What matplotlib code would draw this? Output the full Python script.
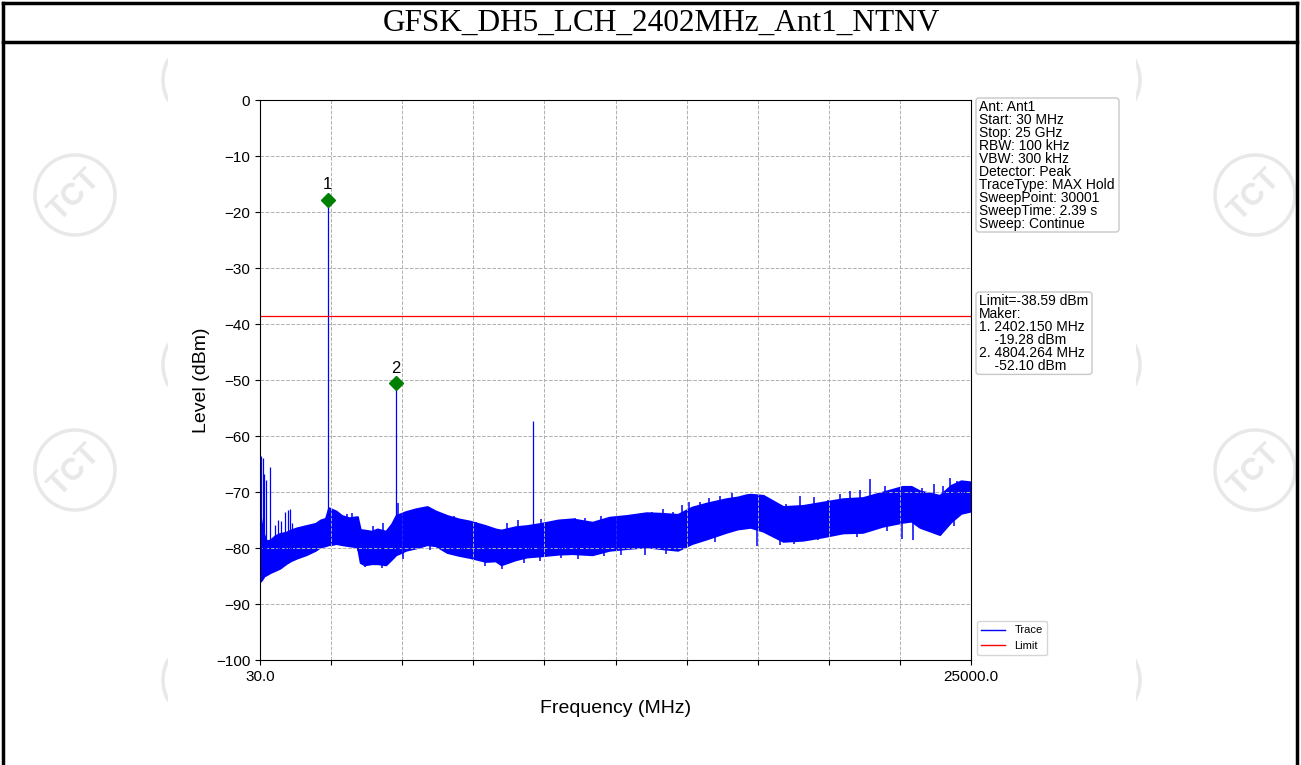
import numpy as np
import matplotlib
matplotlib.use('Agg')
import matplotlib.pyplot as plt
from matplotlib.patches import Circle, Rectangle, Arc, FancyBboxPatch
from matplotlib.lines import Line2D

matplotlib.rcParams['font.family'] = 'sans-serif'
matplotlib.rcParams['font.sans-serif'] = ['Liberation Sans', 'DejaVu Sans']

title = 'GFSK_DH5_LCH_2402MHz_Ant1_NTNV'
f_start, f_stop = 30.0, 25000.0
limit = -38.59

# noise floor envelope (MHz, dBm low, dBm high)
env_f = [30, 100, 170, 250, 380, 560, 730, 940, 1100, 1320, 1650, 1980, 2150, 2330,
         2440, 2520, 2700, 2900, 3150, 3450, 3550, 3700, 3950, 4150, 4450, 4650, 4804,
         4900, 5150, 5500, 5900, 6200, 6600, 7000, 7400, 7950, 8300, 8500, 9000, 9400,
         9900, 10500, 11000, 11700, 12300, 12900, 13600, 14100, 14700, 15200, 15700,
         16400, 16800, 17100, 17250, 17700, 18400, 19100, 19800, 20500, 21200, 21900,
         22600, 22900, 23200, 23900, 24300, 24650, 25000]
env_lo = [-86.0, -85.6, -85.0, -84.8, -84.4, -84.0, -83.6, -82.8, -82.3, -81.8, -81.2,
          -80.4, -79.8, -79.6, -79.4, -79.4, -79.2, -79.4, -79.6, -79.8, -82.6, -83.0,
          -82.8, -82.8, -83.0, -82.0, -81.2, -81.0, -80.4, -80.0, -79.4, -79.6, -80.8,
          -81.3, -81.7, -82.4, -82.3, -83.0, -82.1, -81.6, -81.4, -81.1, -81.0, -81.2,
          -80.4, -80.1, -79.8, -80.1, -80.4, -79.2, -78.4, -77.2, -76.6, -76.4, -76.3,
          -77.0, -78.8, -78.6, -78.0, -77.3, -77.2, -76.1, -75.4, -75.2, -76.3, -77.6,
          -75.3, -73.8, -73.4]
env_hi = [-74.0, -76.2, -77.7, -78.7, -78.6, -77.8, -77.4, -77.2, -76.8, -76.4, -76.0,
          -75.6, -75.0, -74.7, -72.8, -73.0, -73.4, -74.2, -74.6, -74.4, -76.7, -76.8,
          -77.0, -76.6, -77.0, -75.7, -74.2, -74.0, -73.5, -73.0, -72.6, -73.4, -74.2,
          -74.8, -75.2, -76.0, -76.6, -76.8, -76.2, -76.0, -75.6, -75.0, -74.8, -75.4,
          -74.5, -74.2, -73.7, -73.8, -74.0, -72.7, -72.0, -71.2, -70.9, -70.5, -70.4,
          -70.6, -72.6, -72.4, -71.8, -71.2, -71.0, -70.0, -69.0, -69.0, -69.8, -70.6,
          -68.8, -68.0, -68.2]

# noise peaks poking out of the floor (MHz, dBm)
peak_f = [2724, 2910, 3100, 3250, 3475, 4000, 4350, 4880, 5300, 5600, 5885, 6236, 6527,
          6850, 7160, 7600, 8037, 8694, 9100, 9510, 9900, 10215, 10800, 11100, 11440, 12000,
          12555, 13200, 13786, 14200, 14545, 14840, 15100, 15480, 15800, 16185, 16600,
          16947, 17600, 18100, 18500, 19000, 19500, 19990, 20400, 20750, 21100, 21450,
          21980, 22300, 22800, 23270, 23700, 24000, 24260, 24500, 24730]
peak_top = [-73.5, -74.4, -74.0, -73.8, -74.4, -76.0, -75.6, -72.0, -74.4, -73.0, -73.2,
            -73.5, -74.1, -74.2, -75.0, -75.3, -76.5, -75.6, -75.0, -75.9, -74.8, -75.3,
            -75.6, -74.6, -74.7, -74.2, -74.4, -74.7, -73.5, -73.0, -73.5, -72.3, -71.8,
            -71.7, -71.0, -70.8, -70.2, -71.1, -72.6, -71.8, -72.2, -70.8, -70.9, -71.4,
            -70.3, -69.9, -69.6, -67.7, -69.0, -69.4, -70.5, -69.3, -68.5, -68.9, -67.5,
            -68.0, -68.1]
# noise dips below the floor (MHz, dBm)
dip_f = [3717, 4300, 5063, 6000, 7932, 8517, 9300, 9864, 10600, 11210, 12100, 12700,
         13550, 14300, 16000, 17470, 18290, 18800, 19640, 21000, 22040, 22570, 22975,
         23680, 24400]
dip_bot = [-83.4, -83.6, -82.0, -80.3, -83.2, -83.8, -82.6, -82.4, -81.8, -82.0, -81.4,
           -81.2, -81.2, -81.0, -79.0, -79.6, -79.4, -79.2, -78.6, -78.0, -77.0, -78.4,
           -78.6, -76.6, -76.0]

# narrow spurs and harmonics (MHz, top dBm)
spur_f = [65, 135, 170, 240, 380, 560, 660, 760, 900, 1000, 1080, 1150, 2402, 4804, 9608]
spur_top = [-63.5, -64.0, -66.7, -67.8, -65.5, -75.9, -75.0, -75.2, -73.5, -73.2, -73.0,
            -75.5, -17.8, -50.5, -57.3]

marker_no = ['1', '2']
marker_f = [2402.150, 4804.264]
marker_lvl = [-17.8, -50.5]
marker_txt = ['2402.150 MHz', '4804.264 MHz']
marker_dbm = ['-19.28 dBm', '-52.10 dBm']

info_lines = ['Ant: Ant1', 'Start: 30 MHz', 'Stop: 25 GHz', 'RBW: 100 kHz', 'VBW: 300 kHz',
              'Detector: Peak', 'TraceType: MAX Hold', 'SweepPoint: 30001',
              'SweepTime: 2.39 s', 'Sweep: Continue']

W, H = 1301, 765
fig = plt.figure(figsize=(W / 100, H / 100), dpi=100)

# page frame with faint watermark behind the chart image
bg = fig.add_axes([0, 0, 1, 1])
bg.set_xlim(0, W)
bg.set_ylim(H, 0)
bg.axis('off')
wm = '#e8e8e8'
for cx, cy in [(75, 195), (75, 470), (1255, 195), (1255, 470)]:
    bg.add_patch(Circle((cx, cy), 40, fill=False, ec=wm, lw=2.5))
    bg.text(cx, cy, 'TCT', color=wm, fontsize=22, fontweight='bold',
            rotation=45, ha='center', va='center')
for cy in [80, 365, 680]:
    bg.add_patch(Arc((205, cy), 84, 84, theta1=150, theta2=210, ec=wm, lw=2.5))
    bg.add_patch(Arc((1098, cy), 84, 84, theta1=-30, theta2=30, ec=wm, lw=2.5))
bg.add_patch(Rectangle((168, 46), 968, 719, fc='white', ec='none'))
for y in [3, 42]:
    bg.plot([3, 1297], [y, y], color='black', lw=2.5)
bg.plot([3, 3], [3, H], color='black', lw=2.5)
bg.plot([1297, 1297], [3, H], color='black', lw=2.5)
bg.text(661, 23, title, fontsize=22.5, family='Liberation Serif', ha='center', va='center')


def text_box(lines, x0, y0, w, pitch):
    h = pitch * len(lines) + 5
    bg.add_patch(FancyBboxPatch((x0, y0), w, h, boxstyle='round,pad=0,rounding_size=3',
                                fc='white', ec='#c8c8c8', lw=1, zorder=3))
    for i, s in enumerate(lines):
        bg.text(x0 + 3, y0 + 3 + pitch * (i + 0.5), s, fontsize=10, va='center',
                ha='left', zorder=4)


ax = fig.add_axes([260 / W, 1 - 660 / H, 711 / W, 560 / H])
ax.fill_between(env_f, env_lo, env_hi, color='blue', lw=1.4, edgecolor='blue')
ax.vlines(peak_f, np.interp(peak_f, env_f, env_lo), peak_top, color='blue', lw=1.1)
ax.vlines(dip_f, dip_bot, np.interp(dip_f, env_f, env_hi), color='blue', lw=1.1)
base = np.interp(spur_f, env_f, env_lo)
ax.vlines(spur_f, base, spur_top, color='blue', lw=0.9)
ax.axhline(limit, color='red', lw=0.9)
ax.plot(marker_f, marker_lvl, 'D', color='green', ms=7, zorder=5)
for n, f, l in zip(marker_no, marker_f, marker_lvl):
    ax.text(f, l + 1.3, n, ha='center', va='bottom', fontsize=12)

ax.set_xlim(f_start, f_stop)
ax.set_ylim(-100, 0)
ax.set_xticks(np.linspace(f_start, f_stop, 11))
ax.set_xticklabels(['30.0'] + [''] * 9 + ['25000.0'])
ax.set_yticks(np.arange(-100, 1, 10))
ax.grid(True, ls='--', color='#b0b0b0', lw=0.7)
ax.tick_params(labelsize=11)
ax.set_xlabel('Frequency (MHz)', fontsize=14, labelpad=12)
ax.set_ylabel('Level (dBm)', fontsize=14)

# annotation boxes on a top overlay so they sit above the axes frame
ov = fig.add_axes([0, 0, 1, 1], facecolor='none')
ov.set_xlim(0, W)
ov.set_ylim(H, 0)
ov.axis('off')
bg = ov
text_box(info_lines, 976, 98, 143, 12.9)
mk = ['Limit=%.2f dBm' % limit, 'Maker:']
for n, t, d in zip(marker_no, marker_txt, marker_dbm):
    mk += ['%s. %s' % (n, t), '    ' + d]
text_box(mk, 976, 292, 116, 12.9)

handles = [Line2D([], [], color='blue', lw=1), Line2D([], [], color='red', lw=1)]
fig.legend(handles, ['Trace', 'Limit'], loc='lower left', fontsize=8,
           bbox_to_anchor=(971 / W, 1 - 661 / H), handlelength=2.2)

fig.savefig('out.png', dpi=100)
